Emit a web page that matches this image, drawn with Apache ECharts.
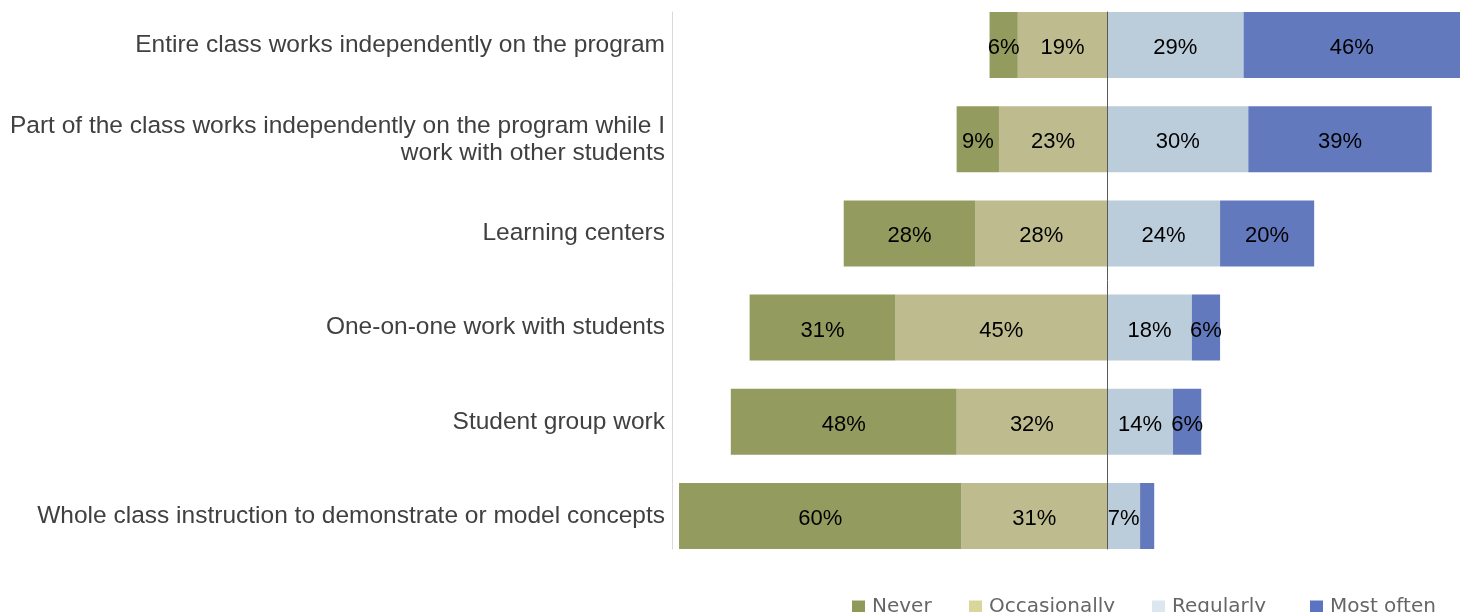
<!DOCTYPE html>
<html>
<head>
<meta charset="utf-8">
<title>Classroom program use</title>
<script src="https://cdn.jsdelivr.net/npm/echarts@6/dist/echarts.min.js"></script>
<style>
  html, body { margin: 0; padding: 0; background: #ffffff; overflow: hidden; }
  /* canvas starts 2px above the viewport so the first band sits flush with the top */
  #chart { width: 1460px; height: 614px; margin-top: -2px; }
</style>
</head>
<body>
<div id="chart"></div>
<script>
// Survey responses (% of teachers), one entry per classroom arrangement, top to bottom
const categories = [
  'Entire class works independently on the program',
  'Part of the class works independently on the program while I\nwork with other students',
  'Learning centers',
  'One-on-one work with students',
  'Student group work',
  'Whole class instruction to demonstrate or model concepts'
];
const never        = [6, 9, 28, 31, 48, 60];
const occasionally = [19, 23, 28, 45, 32, 31];
const regularly    = [29, 30, 24, 18, 14, 7];
const mostOften    = [46, 39, 20, 6, 6, 3];

const seriesNames = ['Never', 'Occasionally', 'Regularly', 'Most often'];
const barColors = ['#949B5E', '#BEBB8F', '#BBCCDA', '#6379BD'];
const legendColors = ['#8F9A5A', '#D8D69B', '#DCE6F1', '#5B74C2'];

const X_MIN = -92.5, X_MAX = 75;

const labelStyle = {
  show: true,
  position: 'inside',
  offset: [0, 3],
  color: '#000000',
  fontFamily: 'Liberation Sans, Arial, sans-serif',
  fontSize: 22,
  formatter: p => Math.abs(p.value) >= 5 ? Math.abs(p.value) + '%' : ''
};

function barSeries(name, values, color, sign) {
  return {
    name: name,
    type: 'bar',
    stack: 'total',
    xAxisIndex: 0,
    yAxisIndex: 0,
    barWidth: 66,
    itemStyle: { color: color },
    label: labelStyle,
    emphasis: { disabled: true },
    data: values.map(v => sign * v)
  };
}

const chart = echarts.init(document.getElementById('chart'), null, { renderer: 'canvas' });

// One legend block per entry, laid out along the bottom edge
const legendLefts = [847, 964, 1147, 1305];
const legends = seriesNames.map((name, i) => ({
  left: legendLefts[i],
  top: 594,
  orient: 'horizontal',
  itemWidth: 13,
  itemHeight: 13,
  itemGap: 0,
  icon: 'rect',
  selectedMode: false,
  textStyle: { color: '#666666', fontSize: 20, fontFamily: 'DejaVu Sans, sans-serif', padding: [0, 0, 0, 2] },
  data: [{ name: name, itemStyle: { color: legendColors[i] } }]
}));

chart.setOption({
  animation: false,
  legend: legends,
  grid: [
    // bars
    { left: 672, right: 0, top: 0, bottom: 49, containLabel: false },
    // axis rules spanning the bar block
    { left: 672, right: 0, top: 14, bottom: 63, containLabel: false }
  ],
  xAxis: [
    { type: 'value', gridIndex: 0, min: X_MIN, max: X_MAX, show: false },
    { type: 'value', gridIndex: 1, min: X_MIN, max: X_MAX, show: false }
  ],
  yAxis: [
    {
      type: 'category',
      gridIndex: 0,
      inverse: true,
      data: categories,
      axisLine: { show: false, onZero: false },
      axisTick: { show: false },
      axisLabel: {
        margin: 7,
        color: '#404040',
        fontSize: 24.5,
        lineHeight: 27,
        padding: [6, 0, 0, 0],
        fontFamily: 'Liberation Sans, Arial, sans-serif',
        align: 'right'
      }
    },
    {
      // zero line between the negative and positive stacks
      type: 'value',
      gridIndex: 1,
      min: 0, max: 1,
      z: 10,
      axisLine: { show: true, onZero: true, lineStyle: { color: '#595959', width: 1 } },
      axisTick: { show: false },
      axisLabel: { show: false },
      splitLine: { show: false }
    },
    {
      // left border rule
      type: 'value',
      gridIndex: 1,
      position: 'left',
      min: 0, max: 1,
      axisLine: { show: true, onZero: false, lineStyle: { color: '#D9D9D9', width: 1 } },
      axisTick: { show: false },
      axisLabel: { show: false },
      splitLine: { show: false }
    }
  ],
  series: [
    barSeries('Occasionally', occasionally, barColors[1], -1),
    barSeries('Never', never, barColors[0], -1),
    barSeries('Regularly', regularly, barColors[2], 1),
    barSeries('Most often', mostOften, barColors[3], 1)
  ]
});
</script>
</body>
</html>
